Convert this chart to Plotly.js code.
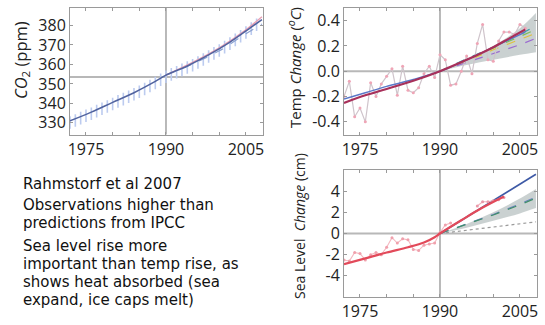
<!DOCTYPE html>
<html><head><meta charset="utf-8">
<script src="https://cdn.plot.ly/plotly-3.0.1.min.js"></script>
<style>html,body{margin:0;padding:0;background:#fff}#chart{width:545px;height:325px}</style>
</head><body><div id="chart"></div>
<script>
// ---------- data ----------
const xTickVals = [1975, 1980, 1985, 1990, 1995, 2000, 2005];
const xTickText = ['1975', '', '', '1990', '', '', '2005'];

// CO2 (ppm)
const co2Years = [1972,1973,1974,1975,1976,1977,1978,1979,1980,1981,1982,1983,1984,1985,1986,1987,1988,1989,1990,1991,1992,1993,1994,1995,1996,1997,1998,1999,2000,2001,2002,2003,2004,2005,2006,2007];
const co2Obs = [330.2,331.2,332.4,333.6,334.7,336.0,337.2,338.4,339.7,341.0,342.2,343.4,344.7,346.0,347.4,348.9,350.5,352.1,353.7,354.9,356.0,357.2,358.4,359.6,361.0,362.5,364.1,365.7,367.2,368.9,370.7,372.6,374.5,376.4,378.4,380.4];
const co2TrendYears = [1972,1976,1980,1984,1988,1990,1994,1998,2002,2006,2008];
const co2Trend = [331.0,335.5,340.5,345.5,351.3,354.5,359.2,364.9,371.5,379.2,383.0];
const co2ProjYears = [1990,1995,2000,2005,2008];
const co2ProjHigh = [354.5,361.0,368.5,377.8,384.5];
const co2ProjLow = [354.5,360.3,367.0,375.8,380.8];
const co2TickVals = [330,340,350,360,370,380];
const co2TickText = ['330','340','350','360','370','380'];

// Temperature change (deg C)
const tempYears = [1972,1973,1974,1975,1976,1977,1978,1979,1980,1981,1982,1983,1984,1985,1986,1987,1988,1989,1990,1991,1992,1993,1994,1995,1996,1997,1998,1999,2000,2001,2002,2003,2004,2005,2006];
const tempObs = [-0.20,-0.08,-0.36,-0.29,-0.40,-0.09,-0.20,-0.10,-0.04,0.02,-0.19,0.04,-0.15,-0.17,-0.13,-0.02,0.04,-0.05,0.13,0.09,-0.11,-0.10,0.00,0.12,-0.02,0.22,0.37,0.09,0.08,0.24,0.31,0.31,0.29,0.37,0.34];
const tempTrendYears = [1972,1976,1980,1985,1990,1995,2000,2003,2006];
const tempTrendRed = [-0.25,-0.19,-0.14,-0.075,0.0,0.09,0.19,0.26,0.33];
const tempTrendBlue = [-0.22,-0.17,-0.12,-0.065,0.0,0.09,0.19,0.25,0.31];
const tempProjYears = [1990,1995,2000,2005,2008];
const tempBandHigh = [0.0,0.09,0.20,0.34,0.46];
const tempBandLow = [0.0,0.05,0.09,0.13,0.15];
const tempProjA = [0.0,0.10,0.19,0.29,0.36];
const tempProjB = [0.0,0.09,0.18,0.27,0.33];
const tempProjC = [0.0,0.08,0.17,0.25,0.30];
const tempProjD = [0.0,0.07,0.14,0.21,0.26];
const tempTickVals = [-0.4,-0.2,0,0.2,0.4];
const tempTickText = ['-0.4','-0.2','0.0','0.2','0.4'];

// Sea level change (cm)
const seaYears = [1972,1973,1974,1975,1976,1977,1978,1979,1980,1981,1982,1983,1984,1985,1986,1987,1988,1989,1990,1991,1992];
const seaObs = [-2.5,-2.6,-1.8,-1.9,-2.5,-2.0,-1.8,-2.0,-1.3,-0.4,-0.9,-0.5,-0.6,-1.5,-1.6,-1.1,-1.0,-0.9,0.1,0.8,1.0];
const satYears = [1997,1998,1999,2000,2001,2002];
const satObs = [2.6,3.0,3.0,3.1,3.2,3.4];
const seaTrendYears = [1972,1976,1980,1984,1987,1989,1990,1994,1998,2002];
const seaTrend = [-2.9,-2.35,-1.8,-1.3,-0.85,-0.35,0.0,1.25,2.45,3.5];
const seaProjYears = [1990,1995,2000,2005,2008];
const seaBlue = [0.0,1.55,3.1,4.65,5.6];
const seaBandHigh = [0.0,0.9,2.0,3.3,4.2];
const seaBandLow = [0.0,0.55,1.2,1.9,2.4];
const seaProjMid = [0.0,0.85,1.75,2.7,3.35];
const seaProjBlue = [0.0,0.9,1.8,2.8,3.45];
const seaProjLow = [0.0,0.3,0.6,0.9,1.1];
const seaTickVals = [-4,-2,0,2,4];
const seaTickText = ['-4','-2','0','2','4'];

const textLines = [
  'Rahmstorf et al 2007',
  'Observations higher than',
  'predictions from IPCC',
  'Sea level rise more',
  'important than temp rise, as',
  'shows heat absorbed (sea',
  'expand, ice caps melt)'
];

// ---------- traces ----------
const traces = [
  // CO2 panel
  {x: co2Years, y: co2Obs, xaxis:'x', yaxis:'y', mode:'markers', type:'scatter',
   marker:{symbol:'line-ns', size:9, line:{width:1.6, color:'#bccbef'}}},
  {x: co2ProjYears, y: co2ProjLow, xaxis:'x', yaxis:'y', mode:'lines',
   line:{color:'#8aa0d0', width:1.2, dash:'dash', shape:'spline'}},
  {x: co2ProjYears, y: co2ProjHigh, xaxis:'x', yaxis:'y', mode:'lines',
   line:{color:'#e8a0b4', width:1.4, shape:'spline'}},
  {x: co2TrendYears, y: co2Trend, xaxis:'x', yaxis:'y', mode:'lines',
   line:{color:'#51639f', width:1.6, shape:'spline'}},

  // Temperature panel
  {x: tempProjYears, y: tempBandLow, xaxis:'x2', yaxis:'y2', mode:'lines',
   line:{color:'rgba(0,0,0,0)', width:0, shape:'spline'}},
  {x: tempProjYears, y: tempBandHigh, xaxis:'x2', yaxis:'y2', mode:'lines', fill:'tonexty',
   fillcolor:'rgba(180,190,190,0.7)', line:{color:'rgba(0,0,0,0)', width:0, shape:'spline'}},
  {x: tempProjYears, y: tempProjA, xaxis:'x2', yaxis:'y2', mode:'lines', line:{color:'#3a9aa8', width:1.2, dash:'dash'}},
  {x: tempProjYears, y: tempProjB, xaxis:'x2', yaxis:'y2', mode:'lines', line:{color:'#7fbf5a', width:1.2, dash:'dash'}},
  {x: tempProjYears, y: tempProjC, xaxis:'x2', yaxis:'y2', mode:'lines', line:{color:'#e0c040', width:1.2, dash:'dash'}},
  {x: tempProjYears, y: tempProjD, xaxis:'x2', yaxis:'y2', mode:'lines', line:{color:'#9a6ad0', width:1.2, dash:'dash'}},
  {x: tempYears, y: tempObs, xaxis:'x2', yaxis:'y2', mode:'lines+markers',
   line:{color:'#cfc4cb', width:1.2}, marker:{size:3, color:'#efa5b6'}},
  {x: tempTrendYears, y: tempTrendBlue, xaxis:'x2', yaxis:'y2', mode:'lines',
   line:{color:'#5a78c8', width:1.4, shape:'spline'}},
  {x: tempTrendYears, y: tempTrendRed, xaxis:'x2', yaxis:'y2', mode:'lines',
   line:{color:'#a8305a', width:2.2, shape:'spline'}},

  // Sea level panel
  {x: seaProjYears, y: seaBandLow, xaxis:'x3', yaxis:'y3', mode:'lines',
   line:{color:'rgba(0,0,0,0)', width:0, shape:'spline'}},
  {x: seaProjYears, y: seaBandHigh, xaxis:'x3', yaxis:'y3', mode:'lines', fill:'tonexty',
   fillcolor:'rgba(180,190,190,0.7)', line:{color:'rgba(0,0,0,0)', width:0, shape:'spline'}},
  {x: seaProjYears, y: seaProjLow, xaxis:'x3', yaxis:'y3', mode:'lines', line:{color:'#9a9a9a', width:1.2, dash:'dot'}},
  {x: seaProjYears, y: seaProjBlue, xaxis:'x3', yaxis:'y3', mode:'lines', line:{color:'#6a7fc0', width:1.2, dash:'dash'}},
  {x: seaProjYears, y: seaProjMid, xaxis:'x3', yaxis:'y3', mode:'lines', line:{color:'#3f8f6a', width:1.2, dash:'dash'}},
  {x: seaProjYears, y: seaBlue, xaxis:'x3', yaxis:'y3', mode:'lines', line:{color:'#3e5aa6', width:1.7}},
  {x: seaYears, y: seaObs, xaxis:'x3', yaxis:'y3', mode:'lines+markers',
   line:{color:'#f4b8c0', width:1.1}, marker:{size:3, color:'#f0a0ac'}},
  {x: satYears, y: satObs, xaxis:'x3', yaxis:'y3', mode:'lines+markers',
   line:{color:'#f2b0bc', width:1.1}, marker:{size:3, color:'#e99aaa'}},
  {x: seaTrendYears, y: seaTrend, xaxis:'x3', yaxis:'y3', mode:'lines',
   line:{color:'#e24a5a', width:2.2, shape:'spline'}}
];

// ---------- layout ----------
const W = 545, H = 325;
const px = v => v / W;
const py = v => 1 - v / H;
const tickFont = {family:'"Open Sans", "DejaVu Sans", sans-serif', size:16, color:'#222'};
const frame = '#9a9a9a';

function xAx(anchor, domain){
  return {domain, anchor, range:[1972, 2008.2], tickmode:'array', tickvals:xTickVals, ticktext:xTickText,
    ticks:'inside', ticklen:3, tickcolor:frame, showline:true, linecolor:frame, linewidth:1,
    mirror:'ticks', showgrid:false, zeroline:false, tickfont:tickFont, fixedrange:true};
}
function yAx(anchor, domain, range, vals, text){
  return {domain, anchor, range, tickmode:'array', tickvals:vals, ticktext:text,
    ticks:'inside', ticklen:3, tickcolor:frame, showline:true, linecolor:frame, linewidth:1,
    mirror:'ticks', showgrid:false, zeroline:false, tickfont:tickFont, fixedrange:true};
}

const dom1x = [px(70), px(263)], dom2x = [px(344), px(537)];
const domTop = [py(134.5), py(8)], domBot = [py(297), py(170)];

const refLine = {color:'#b8b8b8', width:2};
const shapes = [
  {type:'line', xref:'x', yref:'y domain', x0:1990, x1:1990, y0:0, y1:1, line:refLine, layer:'below'},
  {type:'line', xref:'x domain', yref:'y', x0:0, x1:1, y0:353.5, y1:353.5, line:refLine, layer:'below'},
  {type:'line', xref:'x2', yref:'y2 domain', x0:1990, x1:1990, y0:0, y1:1, line:refLine, layer:'below'},
  {type:'line', xref:'x2 domain', yref:'y2', x0:0, x1:1, y0:0, y1:0, line:refLine, layer:'below'},
  {type:'line', xref:'x3', yref:'y3 domain', x0:1990, x1:1990, y0:0, y1:1, line:refLine, layer:'below'},
  {type:'line', xref:'x3 domain', yref:'y3', x0:0, x1:1, y0:0, y1:0, line:refLine, layer:'below'}
];

const titleFont = {family:'"Open Sans", "DejaVu Sans", sans-serif', size:16, color:'#222'};
const annotations = [
  {xref:'paper', yref:'paper', x:px(21), y:py(60), text:'<i>CO</i><sub>2</sub> (ppm)', textangle:-90,
   showarrow:false, xanchor:'center', yanchor:'middle', font:{...titleFont, size:16.5}},
  {xref:'paper', yref:'paper', x:px(294), y:py(68), text:'Temp <i>Change</i> (<i><sup>o</sup>C</i>)', textangle:-90,
   showarrow:false, xanchor:'center', yanchor:'middle', font:{...titleFont, size:15}},
  {xref:'paper', yref:'paper', x:px(299), y:py(226), text:'Sea Level  <i>Change</i> (cm)', textangle:-90,
   showarrow:false, xanchor:'center', yanchor:'middle', font:{...titleFont, size:14}}
];
const lineY = [184, 205, 223, 246, 264, 282, 300];
const bodyFont = {family:'"DejaVu Sans", sans-serif', size:15, color:'#111'};
textLines.forEach((t, i) => {
  annotations.push({xref:'paper', yref:'paper', x:px(21), y:py(lineY[i]), text:t, showarrow:false,
    xanchor:'left', yanchor:'middle', align:'left', font:bodyFont});
});

const layout = {
  width: W, height: H, margin:{l:0, r:0, t:0, b:0}, showlegend:false,
  paper_bgcolor:'#fff', plot_bgcolor:'#fff',
  xaxis: xAx('y', dom1x), yaxis: yAx('x', domTop, [324, 389], co2TickVals, co2TickText),
  xaxis2: xAx('y2', dom2x), yaxis2: yAx('x2', domTop, [-0.5, 0.5], tempTickVals, tempTickText),
  xaxis3: xAx('y3', dom2x), yaxis3: yAx('x3', domBot, [-6, 6], seaTickVals, seaTickText),
  shapes, annotations
};

Plotly.newPlot('chart', traces, layout, {staticPlot:true, displayModeBar:false});
</script></body></html>
